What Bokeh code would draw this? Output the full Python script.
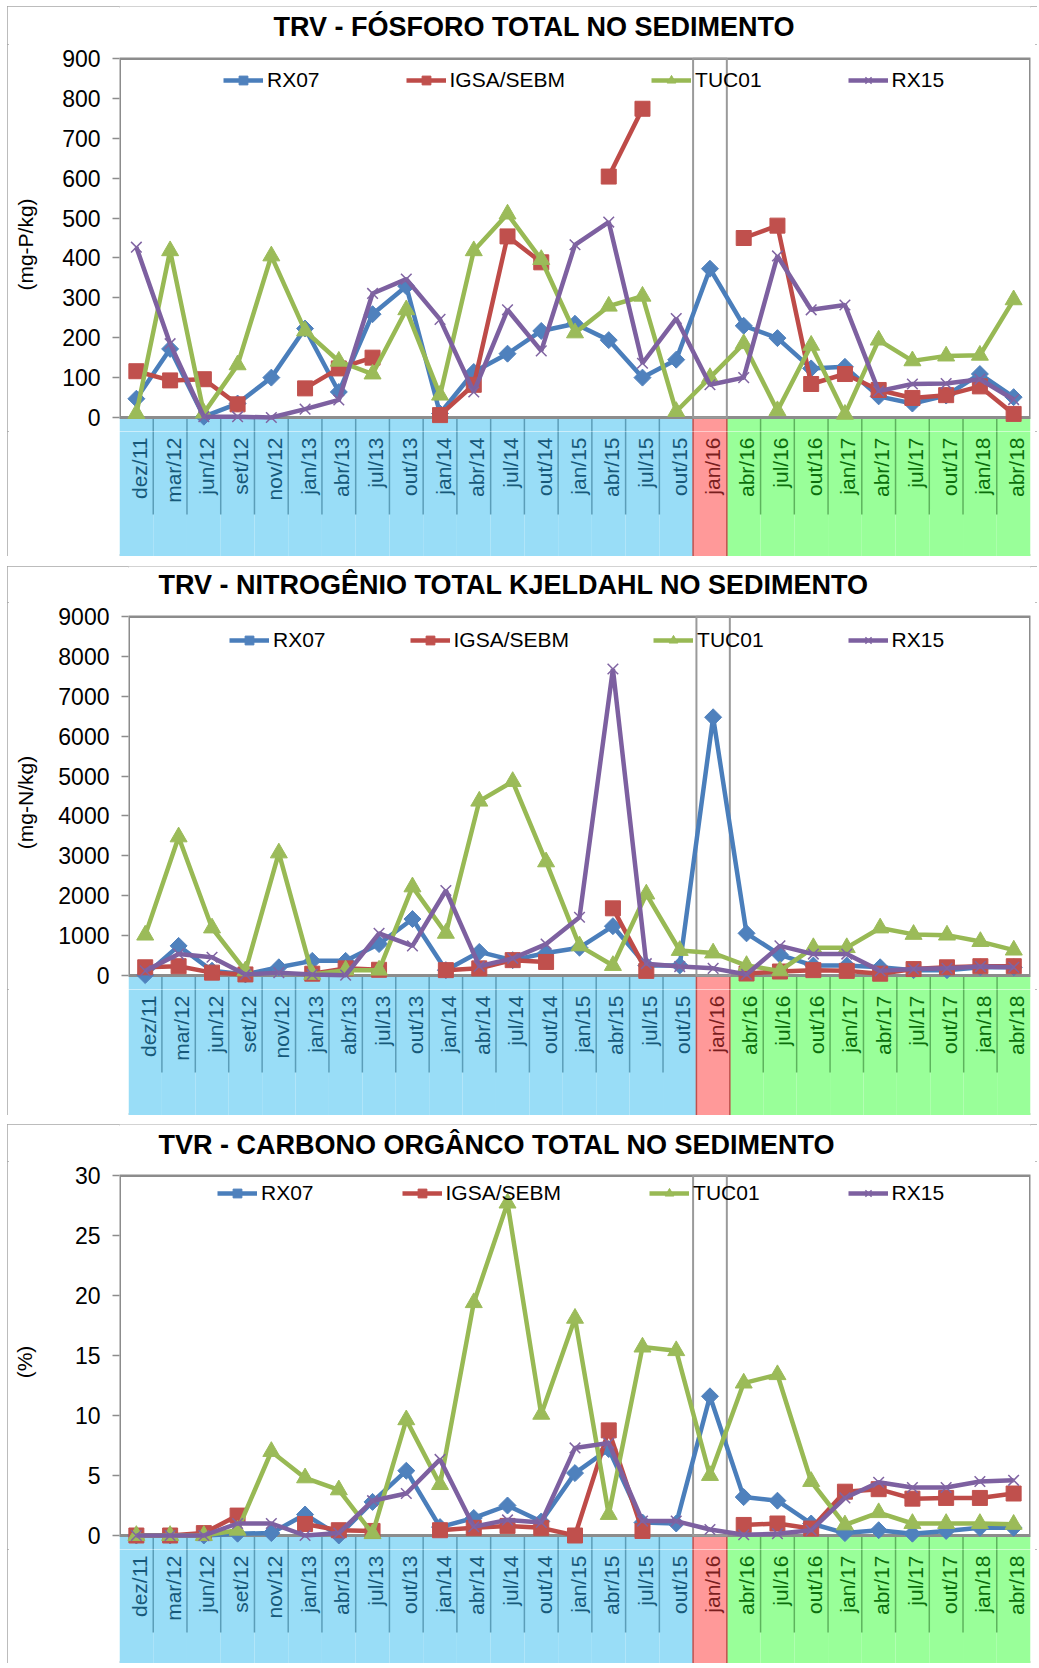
import math
from bokeh.plotting import figure
from bokeh.models import (Range1d, FixedTicker, Legend, LegendItem, ColumnDataSource, Spacer)
from bokeh.layouts import column, row
from bokeh.embed import file_html
from bokeh.resources import INLINE
from bokeh.core.properties import value

nan = float("nan")

# ---------------- data ----------------
categories = ["dez/11", "mar/12", "jun/12", "set/12", "nov/12", "jan/13", "abr/13", "jul/13",
              "out/13", "jan/14", "abr/14", "jul/14", "out/14", "jan/15", "abr/15", "jul/15",
              "out/15", "jan/16", "abr/16", "jul/16", "out/16", "jan/17", "abr/17", "jul/17",
              "out/17", "jan/18", "abr/18"]
periods = ["pre"] * 17 + ["event"] + ["post"] * 9

series_names = ["RX07", "IGSA/SEBM", "TUC01", "RX15"]

# Fósforo total (mg-P/kg)
p_rx07 = [47, 172, 2, 35, 100, 223, 64, 259, 329, 10, 114, 160, 217, 235, 194, 100, 145, 373,
          230, 199, 123, 127, 53, 35, 55, 109, 51]
p_igsa = [116, 93, 96, 33, nan, 73, 123, 150, nan, 6, 82, 454, 389, nan, 604, 774, nan, nan,
          450, 481, 84, 109, 69, 49, 56, 78, 9]
p_tuc01 = [10, 418, 11, 132, 405, 217, 141, 109, 270, 56, 418, 510, 396, 212, 279, 304, 15, 100,
           185, 17, 181, 8, 194, 142, 154, 156, 295]
p_rx15 = [427, 185, 2, 2, 0, 21, 44, 311, 347, 246, 64, 270, 167, 433, 490, 136, 248, 82,
          100, 405, 270, 282, 66, 84, 85, 96, 45]
p_ticks = [0, 100, 200, 300, 400, 500, 600, 700, 800, 900]

# Nitrogênio total Kjeldahl (mg-N/kg)
n_rx07 = [10, 743, 120, 27, 206, 367, 367, 788, 1415, 134, 591, 385, 564, 698, 1236, 250, 250, 6474,
          1057, 519, 250, 250, 206, 134, 134, 206, 206]
n_igsa = [206, 233, 72, 27, nan, 45, 179, 143, nan, 134, 179, 385, 340, nan, 1684, 116, nan, nan,
          50, 100, 134, 116, 45, 161, 206, 233, 233]
n_tuc01 = [1012, 3474, 1191, 116, 3072, 27, 134, 134, 2221, 1057, 4370, 4863, 2848, 743, 250, 2042, 627, 564,
           250, 116, 698, 698, 1191, 1030, 1012, 851, 636]
n_rx15 = [116, 537, 457, 27, 72, 27, 9, 1057, 743, 2131, 233, 430, 788, 1460, 7683, 296, 224, 179,
          27, 743, 537, 537, 116, 161, 179, 224, 206]
n_ticks = [0, 1000, 2000, 3000, 4000, 5000, 6000, 7000, 8000, 9000]

# Carbono orgânico total (%)
c_rx07 = [0, 0, 0, 0.15, 0.2, 1.75, 0, 2.8, 5.4, 0.7, 1.46, 2.5, 1.17, 5.2, 7.2, 1.08, 1.0, 11.6,
          3.2, 2.9, 1.0, 0.2, 0.44, 0.15, 0.38, 0.64, 0.64]
c_igsa = [0, 0, 0.2, 1.66, nan, 0.96, 0.44, 0.38, nan, 0.44, 0.64, 0.8, 0.64, 0, 8.76, 0.38, nan, nan,
          0.88, 1.0, 0.58, 3.65, 3.86, 3.07, 3.13, 3.13, 3.5]
c_tuc01 = [0, 0, 0, 0.44, 7.0, 4.8, 3.8, 0.15, 9.64, 4.24, 19.4, 27.7, 10.1, 18.1, 1.75, 15.7, 15.4, 5.0,
           12.7, 13.4, 4.5, 0.88, 1.9, 1.0, 1.0, 1.0, 0.93]
c_rx15 = [0, 0, 0, 1.0, 1.0, 0, 0.2, 2.9, 3.5, 6.34, 0.73, 1.3, 1.08, 7.3, 7.7, 1.2, 1.2, 0.5,
          0.06, 0.15, 0.44, 3.13, 4.44, 4.0, 4.0, 4.5, 4.6]
c_ticks = [0, 5, 10, 15, 20, 25, 30]

title_p = "TRV - FÓSFORO TOTAL NO SEDIMENTO"
title_n = "TRV - NITROGÊNIO TOTAL KJELDAHL NO SEDIMENTO"
title_c = "TVR - CARBONO ORGÂNCO TOTAL NO SEDIMENTO"
ylabel_p = "(mg-P/kg)"
ylabel_n = "(mg-N/kg)"
ylabel_c = "(%)"

# ---------------- style ----------------
FONT = "Liberation Sans"
FIG_W = 1030
FIG_LEFT = 7
FRAME_RIGHT_PAD = 7
SEP_PX = 97      # separator length below the zero line
LABEL_PX = 20    # category labels start this far below the zero line
EXT = 14         # part of the band drawn inside the plot figure
TOPB = 14        # border above the plot frame (room for the top tick label)

STYLES = [
    dict(line="#4A7EBB", fill="#4F81BD", marker="square", size=12, lw=1, angle=math.pi / 4),
    dict(line="#BE4B48", fill="#C0504D", marker="square", size=15, lw=1, angle=0),
    dict(line="#98B954", fill="#9BBB59", marker="triangle", size=17, lw=1, angle=0),
    dict(line="#7D60A0", fill="#8064A2", marker="x", size=15, lw=1.5, angle=0),
]
BAND_FILL = {"pre": "#99DDF7", "event": "#FF9999", "post": "#99FF99"}
LABEL_COLOR = {"pre": "#17597A", "event": "#7A1E1E", "post": "#0B6E0B"}
SEP_COLOR = {"pre": "#5B9DB8", "post": "#5DB35D"}
FRAME_COLOR = "#8C8C8C"


def bare_figure(height, x_range, y_range, left, right):
    f = figure(width=FIG_W, height=height, x_range=x_range, y_range=y_range,
               x_axis_location=None, y_axis_location=None, toolbar_location=None,
               output_backend="svg", min_border_left=left, min_border_right=right,
               min_border_top=0, min_border_bottom=0)
    f.grid.visible = False
    f.outline_line_color = None
    f.background_fill_color = "white"
    f.border_fill_color = "white"
    return f


def draw_band(fig, ppu, y_top_px, y_bot_px, band_px):
    """Draw the coloured category band between y_top_px and y_bot_px (px below zero)."""
    n = len(categories)
    xs = list(range(n))
    fig.quad(left=[x - 0.5 for x in xs], right=[x + 0.5 for x in xs],
             bottom=-y_bot_px * ppu, top=-y_top_px * ppu,
             fill_color=[BAND_FILL[k] for k in periods], line_color=None)
    bx, y0, y1, cols = [], [], [], []
    for i in range(n - 1):
        a, c = periods[i], periods[i + 1]
        if a == "event" or c == "event":
            end = band_px
            col = "#C0504D"
        else:
            end = SEP_PX
            col = SEP_COLOR[a]
        end = min(end, y_bot_px)
        if end > y_top_px:
            bx.append(i + 0.5)
            y0.append(-y_top_px * ppu)
            y1.append(-end * ppu)
            cols.append(col)
    fig.segment(x0=bx, y0=y0, x1=bx, y1=y1, line_color=cols, line_width=1.5)


def make_panel(title, ylabel, ticks, series, top_px, plot_px, band_px, frame_left,
               title_left, title_cy, ylabel_standoff, legend_x, legend_dy, legend_spacing):
    n = len(categories)
    xs = list(range(n))
    ymax = ticks[-1]
    upp = ymax / plot_px
    xr = Range1d(-0.5, n - 0.5)

    # ---- header with the chart title (frame aligned with the plot frame) ----
    hh = top_px - TOPB
    h = bare_figure(hh, xr, Range1d(0, hh), frame_left - FIG_LEFT, FRAME_RIGHT_PAD)
    h.text(x=[-0.5], y=[hh - title_cy], text=[title], x_offset=title_left - frame_left,
           text_align="left", text_baseline="middle", text_font=value(FONT),
           text_font_style="bold", text_font_size="27px", text_color="black")

    # ---- plot area (with the top strip of the band) ----
    p = figure(width=FIG_W, height=TOPB + plot_px + EXT, x_range=xr,
               y_range=Range1d(-EXT * upp, ymax + upp), x_axis_location=None,
               toolbar_location=None, output_backend="svg",
               min_border_left=frame_left - FIG_LEFT, min_border_right=FRAME_RIGHT_PAD,
               min_border_top=TOPB - 1, min_border_bottom=0)
    p.grid.visible = False
    p.outline_line_color = None
    p.background_fill_color = "white"
    p.border_fill_color = "white"

    ax = p.yaxis[0]
    ax.ticker = FixedTicker(ticks=ticks)
    ax.axis_line_color = None
    ax.major_tick_out = 7
    ax.major_tick_in = 0
    ax.minor_tick_line_color = None
    ax.major_tick_line_color = FRAME_COLOR
    ax.major_tick_line_width = 1.5
    ax.major_label_text_font = FONT
    ax.major_label_text_font_size = "23px"
    ax.major_label_text_color = "black"
    ax.major_label_standoff = 12
    ax.axis_label = ylabel
    ax.axis_label_text_font = FONT
    ax.axis_label_text_font_style = "normal"
    ax.axis_label_text_font_size = "21px"
    ax.axis_label_text_color = "black"
    ax.axis_label_standoff = ylabel_standoff

    draw_band(p, upp, 0, EXT + 1, band_px)

    p.quad(left=-0.5, right=n - 0.5, bottom=0, top=ymax, fill_color=None,
           line_color=FRAME_COLOR, line_width=3)
    e = periods.index("event")
    p.quad(left=e - 0.5, right=e + 0.5, bottom=0, top=ymax, fill_color=None,
           line_color="#9A9A9A", line_width=2)

    items = []
    for name, vals, st in zip(series_names, series, STYLES):
        src = ColumnDataSource(dict(x=xs, y=vals))
        l = p.line("x", "y", source=src, line_color=st["line"], line_width=4.5)
        s = p.scatter("x", "y", source=src, marker=st["marker"], size=st["size"],
                      angle=st["angle"], fill_color=st["fill"], line_color=st["fill"],
                      line_width=st["lw"])
        items.append(LegendItem(label=name, renderers=[l, s]))

    frame_h = plot_px + 1 + EXT
    leg = Legend(items=items, orientation="horizontal",
                 location=(legend_x - frame_left, frame_h - 1 - legend_dy - 12),
                 spacing=legend_spacing, padding=0, margin=0, border_line_color=None,
                 background_fill_alpha=0, glyph_width=40, glyph_height=22,
                 label_standoff=4, label_text_font=FONT, label_text_font_size="21px",
                 label_text_color="black")
    p.add_layout(leg)

    # ---- rest of the category band ----
    b = bare_figure(band_px - EXT, xr, Range1d(-band_px, -EXT),
                    frame_left - FIG_LEFT, FRAME_RIGHT_PAD)
    draw_band(b, 1.0, EXT - 1, band_px, band_px)
    b.text(x=xs, y=[-LABEL_PX] * n, text=categories, angle=math.pi / 2,
           text_align="right", text_baseline="middle", x_offset=3,
           text_color=[LABEL_COLOR[k] for k in periods],
           text_font=value(FONT), text_font_size="21px")

    panel = column(h, p, b, spacing=0)
    panel.styles = {"outline": "2px solid #A6A6A6", "outline-offset": "-2px"}
    return panel


panel1 = make_panel(title_p, ylabel_p, p_ticks, [p_rx07, p_igsa, p_tuc01, p_rx15],
                    top_px=52, plot_px=359, band_px=139, frame_left=119,
                    title_left=273, title_cy=20, ylabel_standoff=22,
                    legend_x=223, legend_dy=22, legend_spacing=86)
panel2 = make_panel(title_n, ylabel_n, n_ticks, [n_rx07, n_igsa, n_tuc01, n_rx15],
                    top_px=50, plot_px=359, band_px=140, frame_left=128,
                    title_left=158, title_cy=18, ylabel_standoff=18,
                    legend_x=229, legend_dy=24, legend_spacing=84)
panel3 = make_panel(title_c, ylabel_c, c_ticks, [c_rx07, c_igsa, c_tuc01, c_rx15],
                    top_px=51, plot_px=360, band_px=128, frame_left=119,
                    title_left=158, title_cy=20, ylabel_standoff=36,
                    legend_x=217, legend_dy=18, legend_spacing=88)

stack = column(Spacer(width=FIG_W, height=6), panel1, Spacer(width=FIG_W, height=10), panel2,
               Spacer(width=FIG_W, height=9), panel3, spacing=0)
layout = row(Spacer(width=FIG_LEFT, height=10), stack, spacing=0)
open("out.html", "w").write(file_html(layout, INLINE))
